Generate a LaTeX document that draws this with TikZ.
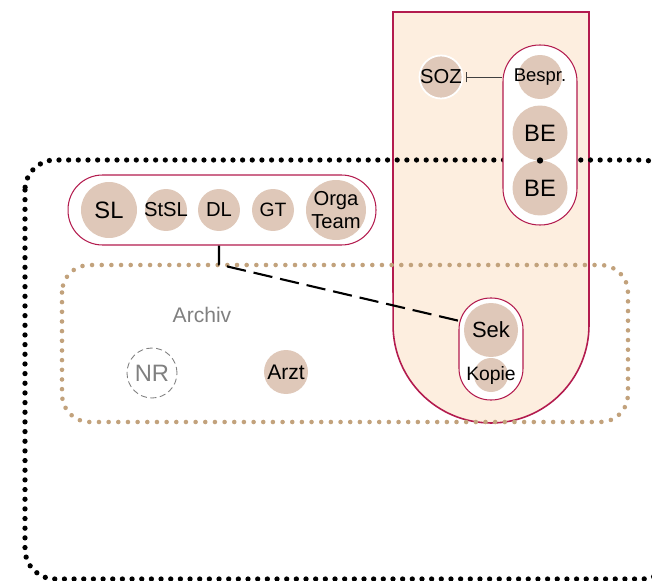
\documentclass[tikz,border=0pt]{standalone}
\usepackage{fontspec}
\setmainfont{Liberation Sans}
\usetikzlibrary{arrows.meta}
\usetikzlibrary{calc}

\definecolor{rim}{HTML}{B31B4E}
\definecolor{peach}{HTML}{FDEEDF}
\definecolor{bubble}{HTML}{DFC8B9}
\definecolor{sand}{HTML}{C2A27C}

\begin{document}
\begin{tikzpicture}[x=0.02cm, y=-0.02cm,
  bub/.style={circle, fill=bubble, inner sep=0pt, minimum size=#1},
  txt/.style={inner sep=0pt, align=center, font=\fontsize{#1}{13}\selectfont},
  pill/.style={draw=rim, fill=white, line width=.6pt, inner sep=0pt},
  blackdots/.style={line width=3pt, line cap=round, dash pattern=on 0pt off 5.5pt},
  sanddots/.style={draw=sand, line width=2.6pt, line cap=round, dash pattern=on 0pt off 5.5pt}]
\useasboundingbox (0,0) rectangle (652,581);
\clip (0,0) rectangle (652,581);

% SOZ column
\filldraw[fill=peach, draw=rim, line width=.9pt] (393,12) -- (589,12) -- (589,325)
  arc[start angle=0, end angle=-180, radius=1.96cm] -- cycle;

% frames
\draw[blackdots, rounded corners=0.6cm] (25,160) rectangle (672,579);
\draw[sanddots, rounded corners=0.55cm] (62,265) rectangle (628,422);

% pills
\node[pill, minimum width=1.48cm, minimum height=3.6cm, rounded corners=0.73cm] (bepill) at (540,135) {};
\node[pill, minimum width=6.16cm, minimum height=1.4cm, rounded corners=0.69cm] (leadpill) at (222,210) {};
\node[pill, minimum width=1.28cm, minimum height=2.04cm, rounded corners=0.63cm] (sekpill) at (491,349) {};

% bubbles
\node[bub=0.86cm, draw=white, line width=1pt, label={[txt=11.5]center:SOZ}] (soz) at (441,77) {};
\node[bub=0.88cm, label={[txt=10.5]center:Bespr.}] (bespr) at (540,77) {};
\node[bub=1.1cm, label={[txt=13.5]center:BE}] (be1) at (540,133) {};
\node[bub=1.1cm, label={[txt=13.5]center:BE}] (be2) at (540,188) {};

\node[bub=1.12cm, label={[txt=13.5]center:SL}] (sl) at (109,210) {};
\node[bub=0.84cm, label={[txt=11.5]center:StSL}] (stsl) at (166,210) {};
\node[bub=0.84cm, label={[txt=11.5]center:DL}] (dl) at (219,210) {};
\node[bub=0.84cm, label={[txt=11]center:GT}] (gt) at (273,210) {};
\node[bub=1.2cm, label={[txt=11.5]center:Orga\\Team}] (orga) at (336,210) {};

\node[txt=12, text=black!50] (archiv) at (202,315) {Archiv};
\node[circle, draw=black!50, dash pattern=on 3.5pt off 2pt, line width=.5pt, minimum size=1cm, inner sep=0pt,
  label={[txt=13.5, text=black!50]center:NR}] (nr) at (152,373) {};
\node[bub=0.88cm, label={[txt=12]center:Arzt}] (arzt) at (286,372) {};

\node[bub=1.08cm, label={[txt=12.5]center:Sek}] (sek) at (491,330) {};
\node[bub=0.68cm, label={[txt=11]center:Kopie}] (kopie) at (491,375) {};

% links
\coordinate (knot) at ($(be1)!.5!(be2)$);
\fill (knot) circle (1.8pt);
\draw[{Bar[width=6pt]}-, line width=.5pt, black!75] ($(soz.east)+(3,0)$) -- (soz.east -| bepill.west);
\draw[line width=1.2pt, dash pattern=on 11pt off 4.5pt] (dl |- leadpill.south) -- ++(0,19) -- (sekpill.139);

\end{tikzpicture}
\end{document}
